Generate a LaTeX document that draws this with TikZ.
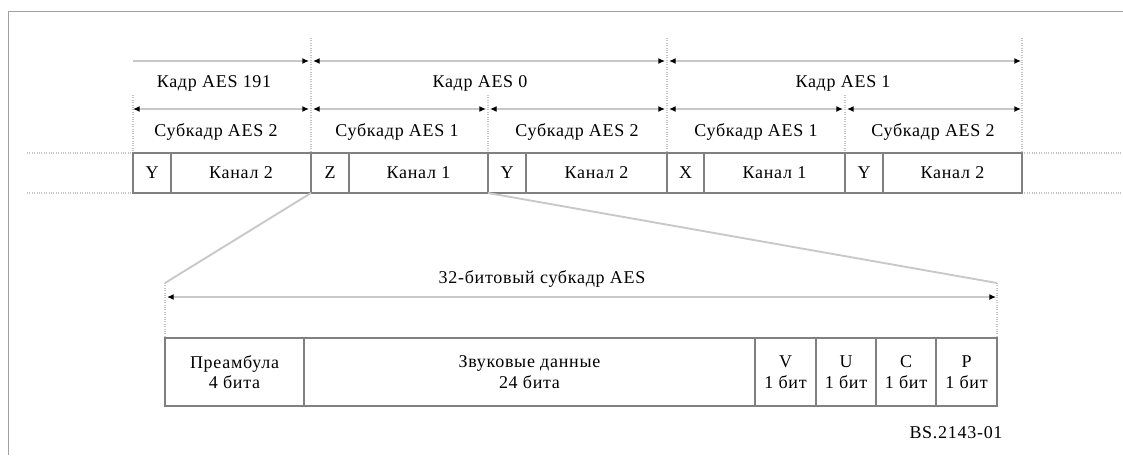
\documentclass[tikz,border=0pt]{standalone}
\usepackage{fontspec}
\setmainfont{Liberation Serif}[LetterSpace=4]
\usetikzlibrary{arrows.meta}
\definecolor{boxgray}{HTML}{808080}
\definecolor{linegray}{HTML}{C8C8C8}
\definecolor{dotgray}{HTML}{C4C4C4}
\definecolor{framegray}{HTML}{A0A0A0}
\newcommand\cellnode[7]{% name, x1, x2, y1, y2, text, extra
  \node[cell, minimum width={(#3-#2)*0.75pt}, minimum height={(#5-#4)*0.75pt}, #7] (#1) at ({(#2+#3)/2},{(#4+#5)/2}) {#6};}
\begin{document}
\begin{tikzpicture}[x=0.75pt,y=-0.75pt,
  lbl/.style={font=\fontsize{13.5}{15}\selectfont, inner sep=0pt},
  cell/.style={draw=boxgray, line width=2pt, inner sep=0pt, outer sep=0pt, align=center, font=\fontsize{13.5}{15.5}\selectfont},
  dim/.style={draw=linegray, line width=2.2pt},
  tipr/.style={-{Latex[length=5pt,width=4.5pt,color=black]}},
  tipb/.style={{Latex[length=5pt,width=4.5pt,color=black]}-{Latex[length=5pt,width=4.5pt,color=black]}},
  guide/.style={draw=dotgray, line width=0.8pt, densely dotted},
  zoomline/.style={draw=linegray, line width=1.4pt}]
\useasboundingbox (0,0) rectangle (1123,455);
% frame
\draw[framegray, line width=0.6pt] (8,455) -- (8,11) -- (1123,11);
% vertical guides
\draw[guide] (133,95) -- (133,153);
\draw[guide] (311,38) -- (311,192);
\draw[guide] (488,95) -- (488,176);
\draw[guide] (667,38) -- (667,153);
\draw[guide] (845,95) -- (845,153);
\draw[guide] (1022,38) -- (1022,153);
% horizontal guides
\draw[guide] (27,153) -- (133,153);
\draw[guide] (27,193) -- (133,193);
\draw[guide] (1022,153) -- (1123,153);
\draw[guide] (1022,193) -- (1123,193);
% frame arrows
\coordinate (f0) at (133,61); \coordinate (f1l) at (309,61); \coordinate (f1r) at (313,61);
\coordinate (f2l) at (665,61); \coordinate (f2r) at (669,61); \coordinate (f3) at (1021,61);
\draw[dim,tipr] (f0) -- (f1l);
\draw[dim,tipb] (f1r) -- (f2l);
\draw[dim,tipb] (f2r) -- (f3);
% subframe arrows
\coordinate (s0) at (133,109); \coordinate (s1l) at (309,109); \coordinate (s1r) at (313,109);
\coordinate (s2l) at (486,109); \coordinate (s2r) at (490,109);
\coordinate (s3l) at (665,109); \coordinate (s3r) at (669,109);
\coordinate (s4l) at (843,109); \coordinate (s4r) at (847,109); \coordinate (s5) at (1021,109);
\draw[dim,tipb] (s0) -- (s1l);
\draw[dim,tipb] (s1r) -- (s2l);
\draw[dim,tipb] (s2r) -- (s3l);
\draw[dim,tipb] (s3r) -- (s4l);
\draw[dim,tipb] (s4r) -- (s5);
% labels
\node[lbl] (k191) at (214,83) {Кадр AES 191};
\node[lbl] (k0) at (480,83) {Кадр AES 0};
\node[lbl] (k1) at (843,83) {Кадр AES 1};
\node[lbl] (sa) at (216,132) {Субкадр AES 2};
\node[lbl] (sb) at (397,132) {Субкадр AES 1};
\node[lbl] (sc) at (577,132) {Субкадр AES 2};
\node[lbl] (sd) at (756,132) {Субкадр AES 1};
\node[lbl] (se) at (933,132) {Субкадр AES 2};
% channel row
\cellnode{p1}{133}{171}{153}{193}{Y}{}
\cellnode{c1}{171}{311}{153}{193}{Канал 2}{}
\cellnode{p2}{311}{349}{153}{193}{Z}{}
\cellnode{c2}{349}{488}{153}{193}{Канал 1}{}
\cellnode{p3}{488}{526}{153}{193}{Y}{}
\cellnode{c3}{526}{667}{153}{193}{Канал 2}{}
\cellnode{p4}{667}{704}{153}{193}{X}{}
\cellnode{c4}{704}{845}{153}{193}{Канал 1}{}
\cellnode{p5}{845}{883}{153}{193}{Y}{}
\cellnode{c5}{883}{1022}{153}{193}{Канал 2}{}
% expansion
\coordinate (zl) at (165,283); \coordinate (zr) at (997,283);
\draw[zoomline] (c1.south east) -- (zl);
\draw[zoomline] (c2.south east) -- (zr);
\draw[guide] (zl) -- (165,338);
\draw[guide] (zr) -- (997,338);
\coordinate (al) at (167,297); \coordinate (ar) at (996,297);
\draw[dim,tipb] (al) -- (ar);
\node[lbl] (sub32) at (542,279) {32-битовый субкадр AES};
% subframe bits
\cellnode{pre}{165}{304}{338}{406}{Преамбула\\4 бита}{}
\cellnode{aud}{304}{755}{338}{406}{Звуковые данные\\24 бита}{}
\cellnode{bv}{755}{816}{338}{406}{V\\1 бит}{}
\cellnode{bu}{816}{876}{338}{406}{U\\1 бит}{}
\cellnode{bc}{876}{936}{338}{406}{C\\1 бит}{}
\cellnode{bp}{936}{997}{338}{406}{P\\1 бит}{}
\node[lbl] (fig) at (956,433) {BS.2143-01};
\end{tikzpicture}
\end{document}
